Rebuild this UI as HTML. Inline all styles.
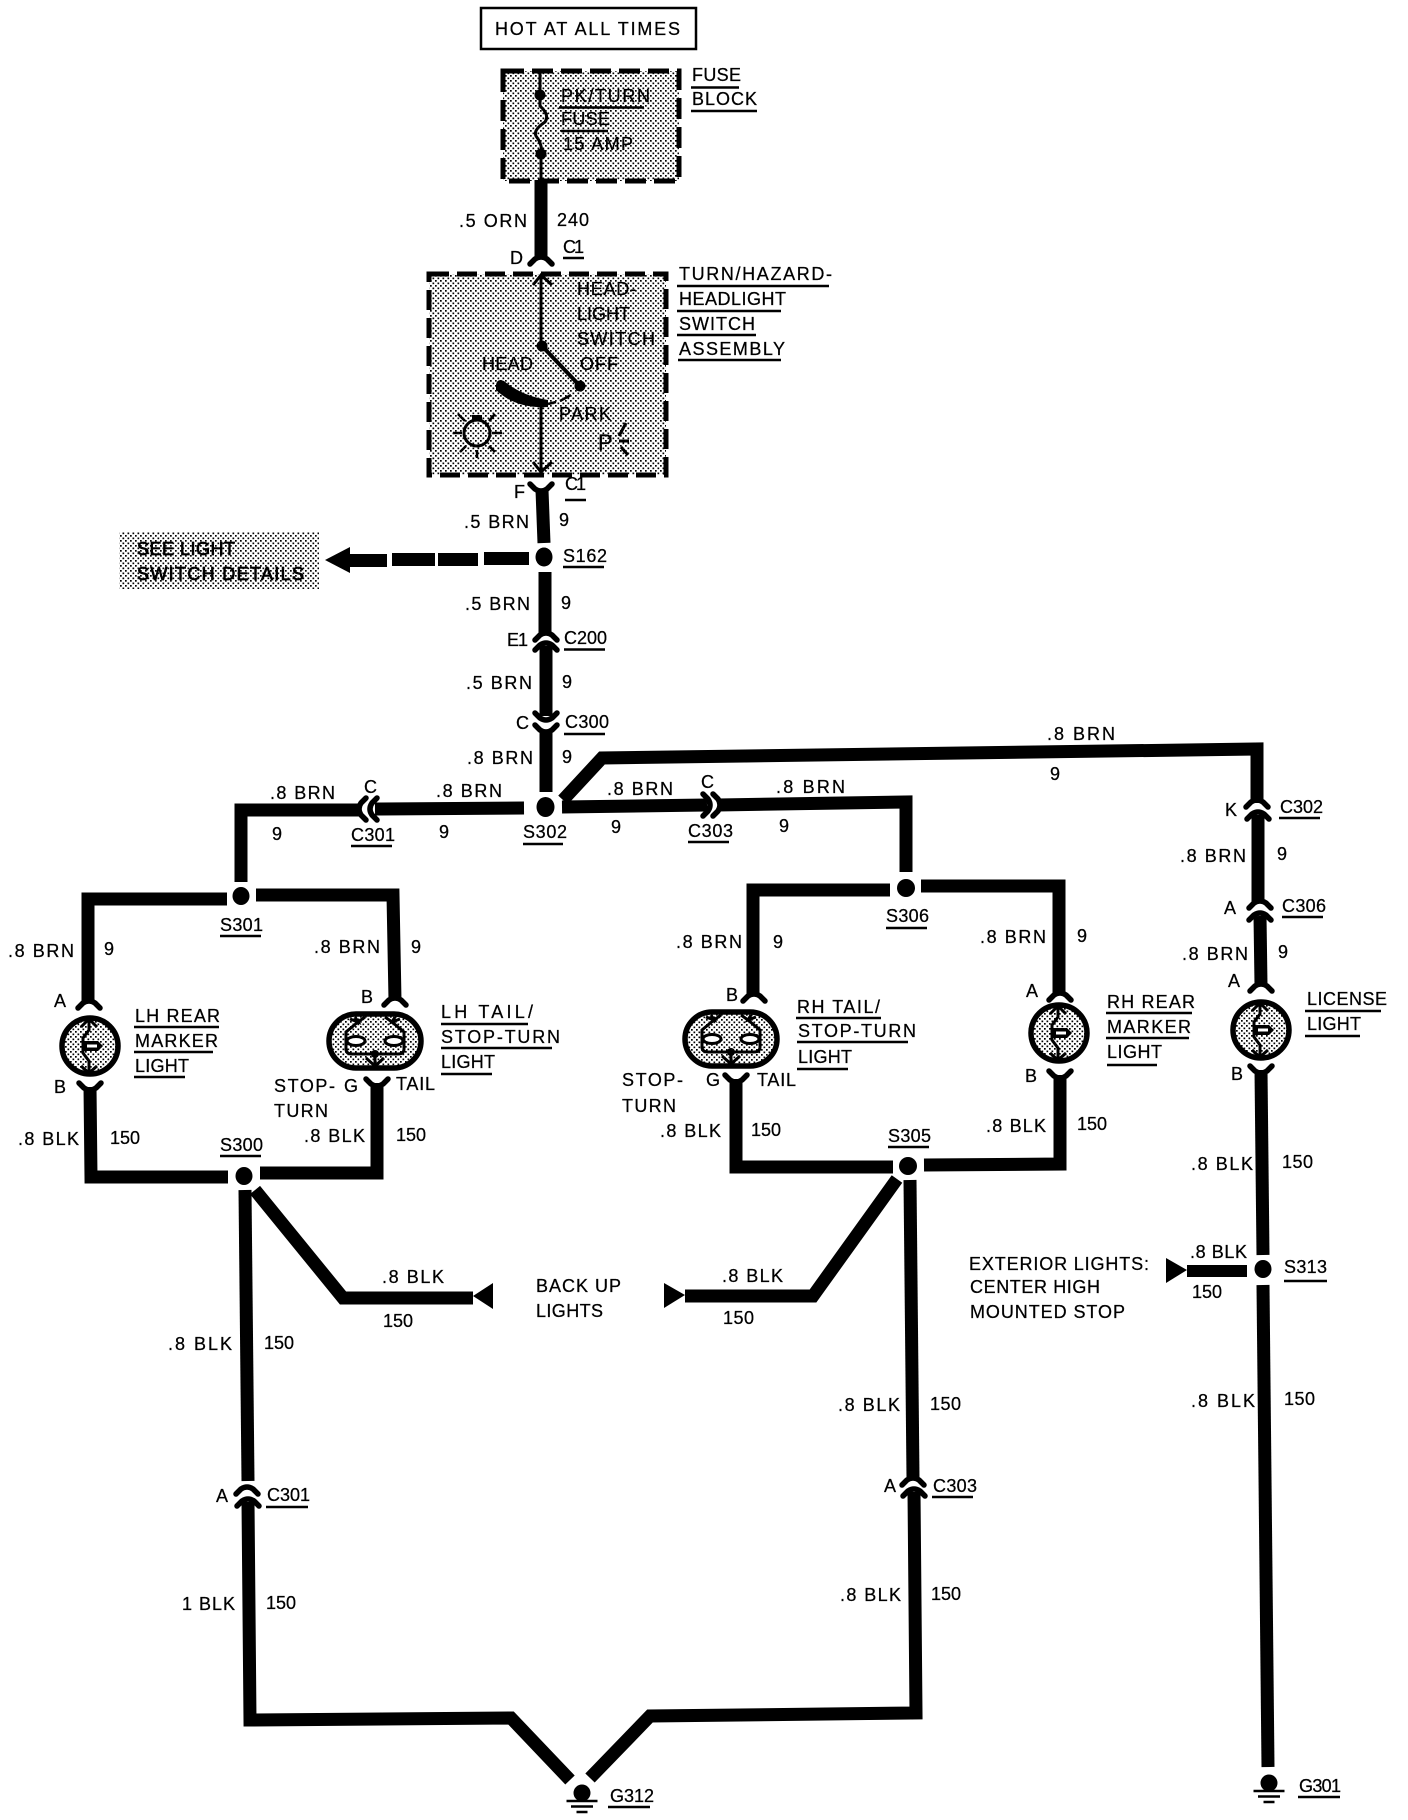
<!DOCTYPE html>
<html><head><meta charset="utf-8"><style>
html,body{margin:0;padding:0;background:#fff}
svg{display:block}
text{font-family:"Liberation Sans",sans-serif;font-size:18px;fill:#000;stroke:#000;stroke-width:.25}
.w{fill:none;stroke:#000;stroke-width:13;stroke-linejoin:miter}
.u{stroke:#000;stroke-width:2.5;fill:none}
.c{fill:none;stroke:#000;stroke-width:5.5;stroke-linecap:round;stroke-linejoin:round}
.n{fill:none;stroke:#000;stroke-width:3}
.b{stroke-width:.7}
</style></head><body>
<svg xmlns="http://www.w3.org/2000/svg" width="1408" height="1820" viewBox="0 0 1408 1820">
<defs>
<pattern id="st" width="5" height="5" patternUnits="userSpaceOnUse"><rect width="5" height="5" fill="#fff"/><rect x="0" y="0" width="1.7" height="1.7" fill="#000"/><rect x="2.5" y="2.5" width="1.7" height="1.7" fill="#000"/></pattern>
<path id="arch" class="c" d="M-11 4 L-6 -1 Q0 -5 6 -1 L11 4"/>
<path id="fork" class="c" d="M-11 -4 L-6 1 Q0 5 6 1 L11 -4"/>
<g id="round">
<circle r="28" fill="url(#st)" stroke="#000" stroke-width="5.5"/>
<path class="n" d="M-1 -27 V-16 L-7 -8 V7 L-1 15 V27 M-9 -19 L-1 -27 L7 -19 M-9 20 L-1 27 L7 20"/>
<path d="M-7 -5 H8 L13 0 L8 5 H-7 Z" fill="#000"/><rect x="-3" y="-1.500" width="10" height="3" fill="#fff"/>
</g>
<g id="oval">
<rect x="-46" y="-27" width="92" height="54" rx="27" ry="27" fill="url(#st)" stroke="#000" stroke-width="5.5"/>
<path class="n" d="M-17 -19 L-29 -9 V8 Q-29 13 -23 13 H23 Q29 13 29 8 V-9 L17 -19 M-25 -22 L-17 -19 L-20 -24 M25 -22 L17 -19 L20 -24 M-10 -24 L-17 -19 M10 -24 L17 -19 M0 13 V24 M-9 17 L0 25 L9 17"/>
<ellipse cx="-19" cy="0" rx="9" ry="4.500" fill="#fff" stroke="#000" stroke-width="3"/>
<ellipse cx="19" cy="0" rx="9" ry="4.500" fill="#fff" stroke="#000" stroke-width="3"/>
<circle cx="0" cy="13" r="4" fill="#000"/>
</g>
<g id="gnd"><circle r="8.500" fill="#000"/><path d="M-15.500 8 H15.500 M-11 13.500 H11 M-5.500 19 H5.500" stroke="#000" stroke-width="2.500" fill="none"/></g>
</defs>
<rect width="1408" height="1820" fill="#fff"/>

<!-- top box -->
<rect x="481" y="8" width="215" height="41" fill="#fff" stroke="#000" stroke-width="2.500"/>
<text x="495" y="35" textLength="185" lengthAdjust="spacing" style="font-size:18px">HOT AT ALL TIMES</text>

<!-- fuse block -->
<rect x="503" y="71" width="176" height="110" fill="url(#st)" stroke="#000" stroke-width="5" stroke-dasharray="21 8"/>
<path class="n" d="M540 71 V96 M540 98 V106 Q550 115 545 122 Q533 130 536 136 Q543 145 541 154 V182"/>
<circle cx="540" cy="95" r="5.500"/><circle cx="541" cy="154" r="5.500"/>
<text x="561" y="102" textLength="89" lengthAdjust="spacing">PK/TURN</text><path class="u" d="M559 107.500H644"/>
<text x="561" y="125" textLength="49" lengthAdjust="spacing">FUSE</text><path class="u" d="M561 131H608"/>
<text x="563" y="150" textLength="70" lengthAdjust="spacing">15 AMP</text>
<text x="692" y="81" textLength="49" lengthAdjust="spacing">FUSE</text><path class="u" d="M691 87.500H739"/>
<text x="692" y="105" textLength="65" lengthAdjust="spacing">BLOCK</text><path class="u" d="M691 111H757"/>

<path class="w" d="M541 180V258"/>
<use href="#arch" x="541" y="260"/>
<text x="459" y="227" textLength="68" lengthAdjust="spacing">.5 ORN</text>
<text x="557" y="226" textLength="32" lengthAdjust="spacing">240</text>
<text x="563" y="253" textLength="21" lengthAdjust="spacing">C1</text><path class="u" d="M563 258H584"/>
<text x="510" y="264" textLength="12" lengthAdjust="spacing">D</text>

<!-- switch box -->
<rect x="429" y="274" width="237" height="201" fill="url(#st)" stroke="#000" stroke-width="5" stroke-dasharray="20 8"/>
<path class="n" d="M541 276V346 M533 285 L541 275 L552 285 M541 405V472 M533 462 L541 472 L552 462"/>
<path d="M542 346 L580 386" stroke="#000" stroke-width="4"/>
<circle cx="542" cy="346" r="5.500"/><circle cx="580" cy="386" r="5.500"/>
<path d="M496 385 Q497 378 504 381 Q522 396 548 400 L548 407 Q516 409 496 390Z"/>
<path d="M548 404 L556 402 M560 401 L571 395" stroke="#000" stroke-width="2.500"/>
<text x="577" y="295" textLength="59" lengthAdjust="spacing">HEAD-</text>
<text x="577" y="320" textLength="53" lengthAdjust="spacing">LIGHT</text>
<text x="577" y="345" textLength="78" lengthAdjust="spacing">SWITCH</text>
<text x="580" y="370" textLength="38" lengthAdjust="spacing">OFF</text>
<text x="482" y="370" textLength="51" lengthAdjust="spacing">HEAD</text>
<text x="559" y="420" textLength="52" lengthAdjust="spacing">PARK</text>
<circle cx="477" cy="433" r="13" fill="none" stroke="#000" stroke-width="3"/>
<rect x="472" y="415" width="10" height="5"/>
<path class="n" style="stroke-width:2.500" d="M453 433H462 M492 433H502 M458 414L465 421 M495 414L489 421 M460 452L466 446 M495 452L489 446 M477 450V458"/>
<text x="598" y="450" style="font-size:22px">P</text>
<path class="n" d="M619 436L626 423 M619 441H629 M621 447L628 455"/>

<text x="679" y="280" textLength="153" lengthAdjust="spacing">TURN/HAZARD-</text><path class="u" d="M677 286H829"/>
<text x="679" y="305" textLength="107" lengthAdjust="spacing">HEADLIGHT</text><path class="u" d="M677 311H781"/>
<text x="679" y="330" textLength="76" lengthAdjust="spacing">SWITCH</text><path class="u" d="M677 335H756"/>
<text x="679" y="355" textLength="106" lengthAdjust="spacing">ASSEMBLY</text><path class="u" d="M678 360H781"/>

<!-- F -->
<use href="#fork" x="541" y="488"/>
<path class="w" d="M542 490L544 543"/>
<text x="514" y="498" textLength="10" lengthAdjust="spacing">F</text>
<text x="565" y="490" textLength="21" lengthAdjust="spacing">C1</text><path class="u" d="M565 500H586"/>
<text x="464" y="528" textLength="65" lengthAdjust="spacing">.5 BRN</text>
<text x="559" y="526">9</text>

<!-- S162 -->
<ellipse cx="544" cy="557" rx="8.500" ry="9.500"/>
<path d="M325 560L350 547V573Z"/>
<path d="M350 554H387V567H350Z M392 553H435V566H392Z M438 553H478V566H438Z M484 552H529V565H484Z"/>
<text x="563" y="562" textLength="44" lengthAdjust="spacing">S162</text><path class="u" d="M563 567H604"/>
<rect x="119" y="532" width="200" height="57" fill="url(#st)"/>
<text class="b" x="137" y="555" textLength="98" lengthAdjust="spacing">SEE LIGHT</text>
<text class="b" x="137" y="580" textLength="167" lengthAdjust="spacing">SWITCH DETAILS</text>

<path class="w" d="M545 572V634"/>
<use href="#arch" x="546" y="636"/>
<use href="#arch" x="546" y="646"/>
<path class="w" d="M546 646V716"/>
<use href="#fork" x="546" y="717"/>
<use href="#fork" x="546" y="729"/>
<path class="w" d="M546 731V792"/>
<text x="465" y="610" textLength="65" lengthAdjust="spacing">.5 BRN</text><text x="561" y="609">9</text>
<text x="507" y="646" textLength="21" lengthAdjust="spacing">E1</text>
<text x="564" y="644" textLength="43" lengthAdjust="spacing">C200</text><path class="u" d="M564 649.500H605"/>
<text x="466" y="689" textLength="66" lengthAdjust="spacing">.5 BRN</text><text x="562" y="688">9</text>
<text x="516" y="729" textLength="13" lengthAdjust="spacing">C</text>
<text x="565" y="728" textLength="44" lengthAdjust="spacing">C300</text><path class="u" d="M564 734H605"/>
<text x="467" y="764" textLength="66" lengthAdjust="spacing">.8 BRN</text><text x="562" y="763">9</text>

<!-- S302 -->
<ellipse cx="545.500" cy="807" rx="9" ry="10"/>
<path class="w" d="M524 808L375 809"/>
<use href="#arch" transform="translate(373 809) rotate(-90)"/>
<use href="#arch" transform="translate(362 809) rotate(-90)"/>
<path class="w" d="M360 810H241V882"/>
<path class="w" d="M562 807L707 805"/>
<use href="#arch" transform="translate(707 805) rotate(90)"/>
<use href="#arch" transform="translate(717 805) rotate(90)"/>
<path class="w" d="M718 805L906 802V872"/>
<path class="w" d="M563 800L602 758L1257 749V803"/>

<text x="270" y="799" textLength="65" lengthAdjust="spacing">.8 BRN</text>
<text x="364" y="793" textLength="13" lengthAdjust="spacing">C</text>
<text x="351" y="841" textLength="44" lengthAdjust="spacing">C301</text><path class="u" d="M351 846H392"/>
<text x="272" y="840">9</text>
<text x="436" y="797" textLength="66" lengthAdjust="spacing">.8 BRN</text>
<text x="439" y="838">9</text>
<text x="523" y="838" textLength="44" lengthAdjust="spacing">S302</text><path class="u" d="M523 844H563"/>
<text x="607" y="795" textLength="66" lengthAdjust="spacing">.8 BRN</text>
<text x="701" y="788" textLength="13" lengthAdjust="spacing">C</text>
<text x="688" y="837" textLength="45" lengthAdjust="spacing">C303</text><path class="u" d="M688 842H729"/>
<text x="611" y="833">9</text>
<text x="776" y="793" textLength="69" lengthAdjust="spacing">.8 BRN</text>
<text x="779" y="832">9</text>
<text x="1047" y="740" textLength="68" lengthAdjust="spacing">.8 BRN</text>
<text x="1050" y="780">9</text>

<!-- license branch -->
<use href="#arch" x="1257" y="803"/>
<use href="#arch" x="1258" y="815"/>
<path class="w" d="M1258 815V903"/>
<use href="#arch" x="1260" y="904"/>
<use href="#arch" x="1260" y="916"/>
<path class="w" d="M1260 916L1261 985"/>
<use href="#arch" x="1261" y="987"/>
<use href="#round" x="1261" y="1030"/>
<use href="#fork" x="1261" y="1070"/>
<path class="w" d="M1261 1070L1263 1255"/>
<ellipse cx="1263" cy="1269" rx="8.500" ry="9"/>
<path class="w" d="M1263 1285L1268 1767"/>
<text x="1225" y="816" textLength="12" lengthAdjust="spacing">K</text>
<text x="1280" y="813" textLength="43" lengthAdjust="spacing">C302</text><path class="u" d="M1279 818H1320"/>
<text x="1180" y="862" textLength="66" lengthAdjust="spacing">.8 BRN</text><text x="1277" y="860">9</text>
<text x="1224" y="914" textLength="13" lengthAdjust="spacing">A</text>
<text x="1282" y="912" textLength="44" lengthAdjust="spacing">C306</text><path class="u" d="M1282 917H1323"/>
<text x="1182" y="960" textLength="66" lengthAdjust="spacing">.8 BRN</text><text x="1278" y="958">9</text>
<text x="1228" y="987" textLength="13" lengthAdjust="spacing">A</text>
<text x="1307" y="1005" textLength="80" lengthAdjust="spacing">LICENSE</text><path class="u" d="M1305 1011H1381"/>
<text x="1307" y="1030" textLength="54" lengthAdjust="spacing">LIGHT</text><path class="u" d="M1305 1036H1360"/>
<text x="1231" y="1080" textLength="12" lengthAdjust="spacing">B</text>
<text x="1191" y="1170" textLength="62" lengthAdjust="spacing">.8 BLK</text>
<text x="1282" y="1168" textLength="31" lengthAdjust="spacing">150</text>
<path d="M1166 1258L1187 1270L1166 1283Z"/>
<path d="M1187 1265H1247V1277H1187Z"/>
<text x="1190" y="1258" textLength="57" lengthAdjust="spacing">.8 BLK</text>
<text x="1192" y="1298" textLength="30" lengthAdjust="spacing">150</text>
<text x="1284" y="1273" textLength="43" lengthAdjust="spacing">S313</text><path class="u" d="M1284 1281H1327"/>
<text x="969" y="1270" textLength="180" lengthAdjust="spacing">EXTERIOR LIGHTS:</text>
<text x="970" y="1293" textLength="130" lengthAdjust="spacing">CENTER HIGH</text>
<text x="970" y="1318" textLength="155" lengthAdjust="spacing">MOUNTED STOP</text>
<text x="1191" y="1407" textLength="64" lengthAdjust="spacing">.8 BLK</text>
<text x="1284" y="1405" textLength="31" lengthAdjust="spacing">150</text>
<use href="#gnd" x="1269" y="1783"/>
<text x="1299" y="1792" textLength="42" lengthAdjust="spacing">G301</text><path class="u" d="M1298 1797H1340"/>

<!-- left loop -->
<ellipse cx="241" cy="896" rx="8.500" ry="9"/>
<path class="w" d="M227 899H88V1003"/>
<path class="w" d="M256 895H393L395 1000"/>
<use href="#arch" x="89" y="1004"/>
<use href="#arch" x="395" y="1001"/>
<use href="#round" x="90" y="1046"/>
<use href="#oval" x="375" y="1041"/>
<use href="#fork" x="90" y="1087"/>
<use href="#fork" x="377" y="1083"/>
<path class="w" d="M90 1087L91 1177H228"/>
<path class="w" d="M377 1083V1173H260"/>
<ellipse cx="244" cy="1176" rx="8.500" ry="9"/>
<path class="w" d="M245 1190L248 1481"/>
<use href="#arch" x="247" y="1490"/>
<use href="#arch" x="248" y="1502"/>
<path class="w" d="M248 1502L250 1720L511 1718L570 1780"/>
<path class="w" d="M255 1190L343 1298H473"/>
<path d="M473 1296L493 1283V1309Z"/>

<text x="8" y="957" textLength="66" lengthAdjust="spacing">.8 BRN</text><text x="104" y="955">9</text>
<text x="220" y="931" textLength="43" lengthAdjust="spacing">S301</text><path class="u" d="M220 936H261"/>
<text x="314" y="953" textLength="66" lengthAdjust="spacing">.8 BRN</text><text x="411" y="953">9</text>
<text x="54" y="1007" textLength="13" lengthAdjust="spacing">A</text>
<text x="54" y="1093" textLength="12" lengthAdjust="spacing">B</text>
<text x="361" y="1003" textLength="12" lengthAdjust="spacing">B</text>
<text x="135" y="1022" textLength="85" lengthAdjust="spacing">LH REAR</text><path class="u" d="M134 1027H219"/>
<text x="135" y="1047" textLength="83" lengthAdjust="spacing">MARKER</text><path class="u" d="M134 1052H213"/>
<text x="135" y="1072" textLength="54" lengthAdjust="spacing">LIGHT</text><path class="u" d="M134 1077H185"/>
<text x="441" y="1018" textLength="92" lengthAdjust="spacing">LH TAIL/</text><path class="u" d="M441 1024H528"/>
<text x="441" y="1043" textLength="119" lengthAdjust="spacing">STOP-TURN</text><path class="u" d="M441 1048H552"/>
<text x="441" y="1068" textLength="54" lengthAdjust="spacing">LIGHT</text><path class="u" d="M441 1074H492"/>
<text x="274" y="1092" textLength="61" lengthAdjust="spacing">STOP-</text>
<text x="344" y="1092" textLength="13" lengthAdjust="spacing">G</text>
<text x="396" y="1090" textLength="39" lengthAdjust="spacing">TAIL</text>
<text x="274" y="1117" textLength="54" lengthAdjust="spacing">TURN</text>
<text x="18" y="1145" textLength="61" lengthAdjust="spacing">.8 BLK</text>
<text x="110" y="1144" textLength="30" lengthAdjust="spacing">150</text>
<text x="304" y="1142" textLength="61" lengthAdjust="spacing">.8 BLK</text>
<text x="396" y="1141" textLength="30" lengthAdjust="spacing">150</text>
<text x="220" y="1151" textLength="43" lengthAdjust="spacing">S300</text><path class="u" d="M220 1156H261"/>
<text x="382" y="1283" textLength="62" lengthAdjust="spacing">.8 BLK</text>
<text x="383" y="1327" textLength="30" lengthAdjust="spacing">150</text>
<text x="536" y="1292" textLength="85" lengthAdjust="spacing">BACK UP</text>
<text x="536" y="1317" textLength="67" lengthAdjust="spacing">LIGHTS</text>
<text x="168" y="1350" textLength="64" lengthAdjust="spacing">.8 BLK</text>
<text x="264" y="1349" textLength="30" lengthAdjust="spacing">150</text>
<text x="216" y="1502" textLength="13" lengthAdjust="spacing">A</text>
<text x="267" y="1501" textLength="43" lengthAdjust="spacing">C301</text><path class="u" d="M266 1507H308"/>
<text x="182" y="1610" textLength="53" lengthAdjust="spacing">1 BLK</text>
<text x="266" y="1609" textLength="30" lengthAdjust="spacing">150</text>

<!-- right loop -->
<ellipse cx="906" cy="888" rx="9" ry="9"/>
<path class="w" d="M890 890H753V995"/>
<path class="w" d="M921 886H1059V993"/>
<use href="#arch" x="754" y="997"/>
<use href="#arch" x="1060" y="996"/>
<use href="#oval" x="731" y="1039"/>
<use href="#round" x="1059" y="1033"/>
<use href="#fork" x="736" y="1079"/>
<use href="#fork" x="1060" y="1075"/>
<path class="w" d="M736 1079V1167H893"/>
<path class="w" d="M924 1165L1060 1164V1075"/>
<ellipse cx="908" cy="1166" rx="9" ry="9"/>
<path class="w" d="M910 1180L913 1478"/>
<use href="#arch" x="913" y="1481"/>
<use href="#arch" x="914" y="1492"/>
<path class="w" d="M914 1492L916 1713L650 1716L590 1778"/>
<path class="w" d="M897 1179L813 1296H685"/>
<path d="M664 1283L685 1295L664 1308Z"/>
<use href="#gnd" x="582" y="1793"/>
<text x="610" y="1802" textLength="44" lengthAdjust="spacing">G312</text><path class="u" d="M608 1807H650"/>

<text x="676" y="948" textLength="66" lengthAdjust="spacing">.8 BRN</text><text x="773" y="948">9</text>
<text x="886" y="922" textLength="43" lengthAdjust="spacing">S306</text><path class="u" d="M886 928H927"/>
<text x="980" y="943" textLength="66" lengthAdjust="spacing">.8 BRN</text><text x="1077" y="942">9</text>
<text x="726" y="1001" textLength="12" lengthAdjust="spacing">B</text>
<text x="1026" y="997" textLength="13" lengthAdjust="spacing">A</text>
<text x="797" y="1013" textLength="83" lengthAdjust="spacing">RH TAIL/</text><path class="u" d="M796 1018H881"/>
<text x="798" y="1037" textLength="118" lengthAdjust="spacing">STOP-TURN</text><path class="u" d="M797 1042H908"/>
<text x="798" y="1063" textLength="54" lengthAdjust="spacing">LIGHT</text><path class="u" d="M797 1069H848"/>
<text x="1107" y="1008" textLength="88" lengthAdjust="spacing">RH REAR</text><path class="u" d="M1106 1013H1192"/>
<text x="1107" y="1033" textLength="84" lengthAdjust="spacing">MARKER</text><path class="u" d="M1106 1038H1189"/>
<text x="1107" y="1058" textLength="55" lengthAdjust="spacing">LIGHT</text><path class="u" d="M1107 1065H1157"/>
<text x="622" y="1086" textLength="61" lengthAdjust="spacing">STOP-</text>
<text x="622" y="1112" textLength="54" lengthAdjust="spacing">TURN</text>
<text x="706" y="1086" textLength="13" lengthAdjust="spacing">G</text>
<text x="757" y="1086" textLength="39" lengthAdjust="spacing">TAIL</text>
<text x="1025" y="1082" textLength="12" lengthAdjust="spacing">B</text>
<text x="660" y="1137" textLength="61" lengthAdjust="spacing">.8 BLK</text>
<text x="751" y="1136" textLength="30" lengthAdjust="spacing">150</text>
<text x="986" y="1132" textLength="60" lengthAdjust="spacing">.8 BLK</text>
<text x="1077" y="1130" textLength="30" lengthAdjust="spacing">150</text>
<text x="888" y="1142" textLength="43" lengthAdjust="spacing">S305</text><path class="u" d="M888 1147H929"/>
<text x="722" y="1282" textLength="61" lengthAdjust="spacing">.8 BLK</text>
<text x="723" y="1324" textLength="31" lengthAdjust="spacing">150</text>
<text x="838" y="1411" textLength="62" lengthAdjust="spacing">.8 BLK</text>
<text x="930" y="1410" textLength="31" lengthAdjust="spacing">150</text>
<text x="884" y="1492" textLength="13" lengthAdjust="spacing">A</text>
<text x="933" y="1492" textLength="44" lengthAdjust="spacing">C303</text><path class="u" d="M932 1497H973"/>
<text x="840" y="1601" textLength="61" lengthAdjust="spacing">.8 BLK</text>
<text x="931" y="1600" textLength="30" lengthAdjust="spacing">150</text>
</svg>
</body></html>
